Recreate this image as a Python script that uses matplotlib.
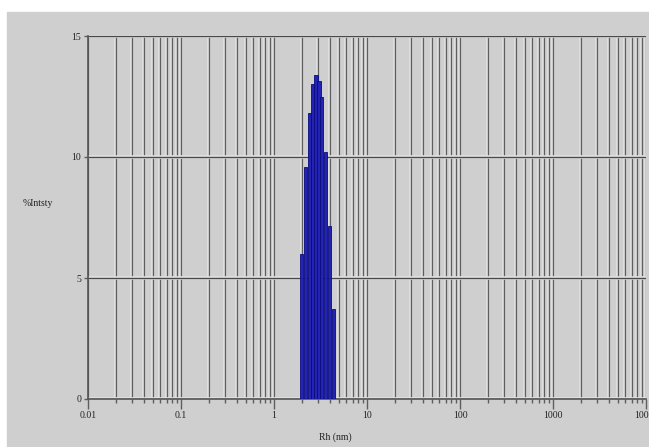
"""
Distribucion de tamano por intensidad (DLS) - radio hidrodinamico
"""
import numpy as np
import matplotlib
matplotlib.use('Agg')
import matplotlib.pyplot as plt
import matplotlib.patheffects as pe
from matplotlib.patches import Rectangle
from matplotlib.ticker import FixedLocator, LogLocator, NullFormatter

# Datos: centro de cada clase (nm) y % de intensidad
radio_nm = [1.97, 2.18, 2.40, 2.61, 2.82, 3.04, 3.27, 3.55, 3.97, 4.40]
intensidad = [6.0, 9.6, 11.8, 13.0, 13.4, 13.15, 12.5, 10.2, 7.15, 3.7]

x_ticks = [0.01, 0.1, 1, 10, 100, 1000, 10000]
x_labels = ['0.01', '0.1', '1', '10', '100', '1000', '10000']
y_ticks = [0, 5, 10, 15]

fig = plt.figure(figsize=(6.49, 4.47), dpi=100, facecolor='white')
# fondo gris del panel (debajo de los ejes)
fondo = Rectangle((7 / 649, 0), 1, (447 - 12) / 447,
                  transform=fig.transFigure, color='#cfcfcf', zorder=-10)
fig.patches.append(fondo)

ax = fig.add_axes([88 / 649, 48 / 447, (646 - 88) / 649, (399 - 36) / 447])
ax.set_facecolor('#cfcfcf')
ax.set_xscale('log')
ax.set_xlim(0.01, 10000)
ax.set_ylim(0, 15)

# barras con ancho constante en escala logaritmica
r = np.array(radio_nm)
half = 10 ** 0.0175
ax.bar(r / half, intensidad, width=r * half - r / half, align='edge',
       color='#2424b4', edgecolor='#0a0a7a', linewidth=0.6, zorder=3)

ax.xaxis.set_major_locator(FixedLocator(x_ticks))
ax.set_xticklabels(x_labels)
ax.xaxis.set_minor_locator(LogLocator(base=10, subs=np.arange(2, 10), numticks=20))
ax.xaxis.set_minor_formatter(NullFormatter())
ax.set_yticks(y_ticks)

halo = [pe.withStroke(linewidth=2.6, foreground='#e2e2e2')]
ax.grid(which='both', axis='x', color='#5e5e5e', linewidth=1.0, path_effects=halo)
ax.grid(which='major', axis='y', color='#4a4a4a', linewidth=1.0, path_effects=halo)
ax.set_axisbelow(True)

for lado in ['top', 'right']:
    ax.spines[lado].set_visible(False)
for lado in ['left', 'bottom']:
    ax.spines[lado].set_color('#555555')
    ax.spines[lado].set_linewidth(1.2)

fuente = dict(family='Liberation Serif', size=7, color='#222222')
ax.tick_params(axis='x', which='major', length=7, width=1, color='#5e5e5e', pad=2)
ax.tick_params(axis='x', which='minor', length=3, width=1, color='#5e5e5e')
ax.tick_params(axis='y', length=3, width=1, color='#5e5e5e', pad=2)
for lbl in ax.get_xticklabels() + ax.get_yticklabels():
    lbl.set_fontfamily('Liberation Serif')
    lbl.set_fontsize(7)
    lbl.set_color('#222222')

fig.text(38 / 649, 1 - 203 / 447, '%Intsty', ha='center', va='center', **fuente)
fig.text(335 / 649, 1 - 437 / 447, 'Rh (nm)', ha='center', va='center', **fuente)

fig.savefig('out.png', dpi=100, facecolor='white')
